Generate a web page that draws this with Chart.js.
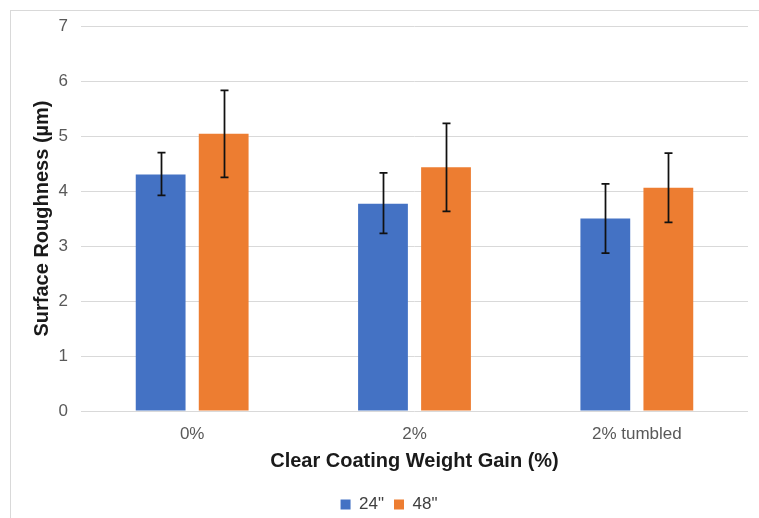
<!DOCTYPE html>
<html>
<head>
<meta charset="utf-8">
<script src="https://cdn.jsdelivr.net/npm/chart.js@4/dist/chart.umd.min.js"></script>
<style>
  html, body { margin: 0; padding: 0; background: #fff; }
  #wrap { width: 759px; height: 518px; position: relative; }
</style>
</head>
<body>
<div id="wrap"><canvas id="c" width="759" height="518"></canvas></div>
<script>
const categories = ['0%', '2%', '2% tumbled'];
const seriesNames = ['24"', '48"'];
const values24 = [4.30, 3.77, 3.50];
const values48 = [5.04, 4.43, 4.06];
const errLow24 = [3.92, 3.23, 2.87];
const errHigh24 = [4.70, 4.33, 4.13];
const errLow48 = [4.25, 3.63, 3.43];
const errHigh48 = [5.83, 5.23, 4.69];
const yTicks = [0, 1, 2, 3, 4, 5, 6, 7];

const FONT = "'Liberation Sans', Arial, sans-serif";

const frame = {
  id: 'frame',
  beforeDraw(chart) {
    const ctx = chart.ctx;
    ctx.save();
    ctx.fillStyle = '#fff';
    ctx.fillRect(0, 0, chart.width, chart.height);
    ctx.strokeStyle = '#D9D9D9';
    ctx.lineWidth = 1;
    ctx.strokeRect(10.5, 10.5, 900, 700);
    ctx.restore();
  }
};

const errorBars = {
  id: 'errorBars',
  afterDatasetsDraw(chart) {
    const ctx = chart.ctx;
    const y = chart.scales.y;
    ctx.save();
    ctx.strokeStyle = '#111';
    ctx.lineWidth = 1.75;
    chart.data.datasets.forEach((ds, di) => {
      const meta = chart.getDatasetMeta(di);
      meta.data.forEach((bar, i) => {
        const x = Math.round(bar.x) + 0.5;
        const yl = y.getPixelForValue(ds.errLow[i]);
        const yh = y.getPixelForValue(ds.errHigh[i]);
        ctx.beginPath();
        ctx.moveTo(x, yl); ctx.lineTo(x, yh);
        ctx.moveTo(x - 4, yl); ctx.lineTo(x + 4, yl);
        ctx.moveTo(x - 4, yh); ctx.lineTo(x + 4, yh);
        ctx.stroke();
      });
    });
    ctx.restore();
  }
};

new Chart(document.getElementById('c'), {
  type: 'bar',
  data: {
    labels: categories,
    datasets: [
      { label: seriesNames[0], data: values24, errLow: errLow24, errHigh: errHigh24,
        backgroundColor: '#4472C4', borderWidth: 0,
        categoryPercentage: 0.567, barPercentage: 0.79 },
      { label: seriesNames[1], data: values48, errLow: errLow48, errHigh: errHigh48,
        backgroundColor: '#ED7D31', borderWidth: 0,
        categoryPercentage: 0.567, barPercentage: 0.79 }
    ]
  },
  options: {
    responsive: false,
    animation: false,
    devicePixelRatio: 1,
    layout: { padding: { top: 26, right: 11, left: 30, bottom: -5 } },
    plugins: {
      tooltip: { enabled: false },
      legend: {
        position: 'bottom',
        labels: {
          font: { family: FONT, size: 17 },
          color: '#404040',
          boxWidth: 10, boxHeight: 10, padding: 10
        }
      }
    },
    scales: {
      x: {
        grid: { display: false, drawTicks: false },
        border: { display: false },
        ticks: { font: { family: FONT, size: 17 }, color: '#595959', padding: 13 },
        title: { display: true, text: 'Clear Coating Weight Gain (%)',
                 font: { family: FONT, size: 20, weight: 'bold' }, color: '#1a1a1a',
                 padding: { top: 0, bottom: 13 } },
        afterFit(scale) { scale.height = 75; }
      },
      y: {
        min: 0, max: 7,
        afterBuildTicks(scale) { scale.ticks = yTicks.map(v => ({ value: v })); },
        grid: { color: '#D9D9D9', drawTicks: false, lineWidth: 1 },
        border: { display: false },
        ticks: { font: { family: FONT, size: 17 }, color: '#595959', padding: 13 },
        title: { display: true, text: 'Surface Roughness (µm)',
                 font: { family: FONT, size: 20, weight: 'bold' }, color: '#1a1a1a',
                 padding: { top: 0, bottom: 0 } },
        afterFit(scale) { scale.width = 51; }
      }
    }
  },
  plugins: [frame, errorBars]
});
</script>
</body>
</html>
